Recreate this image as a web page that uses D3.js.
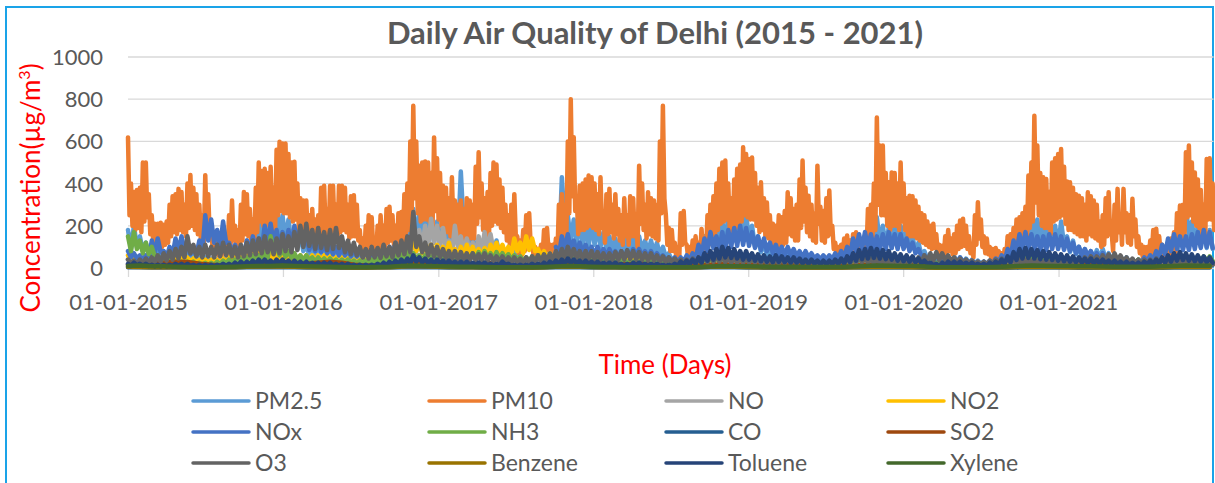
<!DOCTYPE html>
<html><head><meta charset="utf-8">
<script src="https://cdn.jsdelivr.net/npm/d3@7"></script>
<style>
html,body{margin:0;padding:0;background:#fff;}
svg{display:block;font-family:Lato,"Open Sans",sans-serif;}
</style>
</head><body>
<svg id="chart" width="1215" height="483"></svg>
<script>
// ---------- DATA ----------
const titleText = "Daily Air Quality of Delhi (2015 - 2021)";
const yTicks = [0, 200, 400, 600, 800, 1000];
const xTickYears = [2015, 2016, 2017, 2018, 2019, 2020, 2021];
const seriesNames = ["PM2.5","PM10","NO","NO2","NOx","NH3","CO","SO2","O3","Benzene","Toluene","Xylene"];
const seriesColors = ["#5B9BD5","#ED7D31","#A5A5A5","#FFC000","#4472C4","#70AD47","#255E91","#9E480E","#636363","#997300","#264478","#43682B"];
// sampling interval (days) of each series, starting 01-01-2015
const seriesStepDays = [14, 7, 14, 14, 14, 14, 28, 28, 14, 28, 14, 28];

// PM10, weekly highs
const pm10 = [
619,400,360,370,380,500,500,350,250,210,
210,215,205,220,300,340,350,375,360,300,
400,441,380,350,300,250,440,350,200,150,
140,130,190,160,250,320,200,180,300,360,
350,280,230,380,500,460,470,450,480,380,
560,598,590,590,540,500,504,400,330,320,
320,250,280,230,250,380,390,280,390,390,
300,390,390,380,300,340,345,300,180,140,
200,250,240,130,200,250,200,280,290,250,
200,260,265,350,400,600,769,600,485,500,
505,500,450,619,520,450,390,380,330,430,
320,300,320,280,330,320,300,480,548,400,
330,360,450,500,490,420,380,300,250,300,
350,150,130,180,250,260,120,100,90,110,
180,190,110,110,140,300,350,300,600,800,
620,343,390,400,420,438,430,400,350,430,
270,350,375,300,350,280,250,330,250,340,
330,220,485,400,300,359,330,320,300,600,
769,250,190,180,120,100,260,270,110,100,
130,150,120,185,140,250,300,340,400,470,
500,509,400,330,420,470,490,572,540,517,
524,450,380,406,330,310,250,210,200,250,
240,270,359,330,280,300,420,509,380,343,
300,260,485,290,270,330,367,200,120,100,
110,140,154,130,160,170,120,70,150,280,
300,400,713,580,580,450,406,453,450,400,
500,400,330,343,340,320,290,260,250,220,
200,210,160,110,105,150,180,140,160,200,
225,233,200,150,110,250,312,230,150,140,
100,90,95,80,70,90,150,160,190,230,
240,260,290,438,500,721,580,450,430,422,
360,500,520,540,564,480,410,406,380,350,
343,330,300,359,340,320,300,220,250,330,
359,170,300,375,250,375,260,250,328,230,
150,110,100,100,130,180,186,150,110,90,
100,140,170,260,296,300,548,580,500,453,
420,370,300,517,520,400
];
// PM10, weekly lows (mid-week)
const pm10Low = [
250,200,180,190,170,220,240,160,120,100,110,100,110,120,150,170,160,180,170,150,
190,200,180,160,140,120,180,150,90,70,60,60,80,70,100,130,90,80,130,160,
150,130,110,170,220,200,210,200,220,180,250,270,260,
260,240,220,230,180,150,150,140,120,130,110,120,170,180,130,170,180,140,170,180,
170,140,150,150,130,80,60,90,110,100,60,90,110,90,120,130,110,90,120,120,
160,180,270,330,260,220,230,230,220,200,270,230,
200,180,170,150,190,150,140,150,130,150,140,140,210,240,180,150,160,200,220,210,
190,170,130,110,130,150,70,60,80,110,110,55,45,40,50,80,85,50,50,60,
130,160,140,260,340,270,160,180,180,190,200,190,
180,160,190,120,160,170,140,160,130,110,150,110,150,150,100,210,180,140,160,150,
140,130,260,330,110,80,80,55,45,110,120,50,45,60,65,55,80,60,110,130,
150,180,210,220,230,180,150,190,210,220,250,240,
230,230,200,170,180,150,140,110,95,90,110,110,120,160,150,130,130,190,220,170,
150,130,120,210,130,120,150,160,90,55,45,50,60,70,60,70,75,55,35,70,
120,130,180,300,250,250,200,180,200,200,180,220,
180,150,150,150,140,130,120,110,100,90,95,70,50,50,70,80,65,70,90,100,
105,90,70,50,110,140,100,70,65,45,40,45,40,35,40,70,70,85,100,110,
120,130,190,220,310,250,200,190,190,160,220,230,
240,250,210,180,180,170,160,150,150,130,160,150,140,130,100,110,150,160,80,130,
170,110,170,120,110,150,100,70,50,45,45,60,80,85,70,50,40,45,60,75,
120,130,130,240,250,220,200,190,160,130,230,230,180
];

// PM2.5, fortnightly highs / lows
const pm25 = [
180,200,150,120,90,100,80,90,85,95,90,80,70,50,45,40,45,60,70,100,130,150,250,280,300,290,
250,230,180,160,110,100,90,95,100,100,90,80,70,50,45,40,40,55,65,100,150,250,280,260,250,230,
220,200,180,250,457,200,150,120,110,110,130,100,90,80,60,50,45,50,60,80,120,430,250,230,220,200,
220,200,170,150,140,150,140,140,150,130,130,120,100,70,50,45,50,60,100,150,200,230,220,250,250,330,
260,200,150,120,100,90,85,80,80,75,70,60,50,40,35,35,40,55,90,120,150,180,240,200,190,200,
200,180,150,120,80,60,50,45,50,55,50,45,40,35,30,30,35,50,90,150,180,220,290,230,200,220,
200,220,150,130,100,90,80,85,90,70,60,55,50,40,35,30,30,35,45,80,120,230,300,220,200,190,180
];
const pm25Low = [
90,100,80,60,50,55,45,50,45,50,50,45,35,25,25,20,25,30,35,50,70,80,120,140,150,150,
130,120,90,80,60,55,50,50,55,55,50,45,35,25,25,20,20,30,35,50,80,130,140,130,130,120,
110,100,90,120,180,100,80,60,55,55,65,50,45,40,30,25,25,25,30,40,60,200,130,120,110,100,
110,100,90,80,75,80,75,75,80,70,70,60,50,35,25,25,25,30,50,75,100,120,110,130,130,160,
130,100,75,60,50,45,45,40,40,40,35,30,25,20,18,18,20,28,45,60,75,90,120,100,95,100,
100,90,75,60,40,30,25,22,25,28,25,22,20,18,15,15,18,25,45,75,90,110,150,120,100,110,
100,110,75,65,50,45,40,42,45,35,30,28,25,20,18,15,15,18,22,40,60,120,150,110,100,95,90
];

// NO, fortnightly highs / lows
const no = [
40,35,30,25,20,20,20,20,20,20,20,15,15,15,15,15,20,25,30,35,40,50,55,60,60,55,
55,50,40,30,25,20,20,20,20,20,15,15,15,15,15,20,25,30,40,60,90,120,150,180,200,233,
200,190,130,200,150,140,120,150,170,160,100,60,40,30,25,25,30,40,50,60,80,60,50,40,40,40,
40,35,30,25,20,20,15,15,15,15,15,15,15,15,15,20,25,30,40,50,60,60,55,50,50,45,
45,40,30,25,20,20,15,15,15,15,15,15,15,15,15,20,25,30,40,50,60,60,55,50,50,45,
45,40,30,20,10,8,8,8,10,10,10,10,10,10,10,15,20,30,40,50,60,60,55,50,50,45,
45,40,30,25,20,20,15,15,15,15,15,15,15,15,15,20,25,30,40,50,60,60,55,50,50,45,40
];
const noLow = [
20,18,15,12,10,10,10,10,10,10,10,8,8,8,8,8,10,12,15,18,20,25,28,30,30,28,
28,25,20,15,12,10,10,10,10,10,8,8,8,8,8,10,12,15,20,30,45,60,75,90,100,120,
100,95,65,100,75,70,60,75,85,80,50,30,20,15,12,12,15,20,25,30,40,30,25,20,20,20,
20,18,15,12,10,10,8,8,8,8,8,8,8,8,8,10,12,15,20,25,30,30,28,25,25,22,
22,20,15,12,10,10,8,8,8,8,8,8,8,8,8,10,12,15,20,25,30,30,28,25,25,22,
22,20,15,10,5,4,4,4,5,5,5,5,5,5,5,8,10,15,20,25,30,30,28,25,25,22,
22,20,15,12,10,10,8,8,8,8,8,8,8,8,8,10,12,15,20,25,30,30,28,25,25,22,20
];

// NO2, fortnightly highs / lows
const no2 = [
60,55,50,50,50,50,55,55,55,50,50,45,40,40,40,40,45,50,55,60,65,70,75,75,70,70,
70,65,60,60,60,60,60,60,55,50,50,45,40,40,40,40,45,50,55,70,100,130,140,120,110,110,
110,100,120,90,100,110,100,90,95,110,120,110,100,140,120,150,140,90,80,70,60,60,60,55,50,50,
50,50,45,45,45,45,45,40,40,40,40,35,35,35,35,35,40,45,50,55,60,60,55,55,50,50,
50,45,45,40,40,40,40,40,35,35,35,30,30,30,30,30,35,40,45,50,55,55,50,50,45,45,
45,40,40,35,20,15,15,20,25,25,25,20,20,20,20,25,30,35,45,55,60,60,55,50,50,45,
45,40,40,35,35,30,30,30,30,25,25,25,25,25,25,30,35,40,45,50,55,55,50,50,50,45,45
];
const no2Low = [
35,32,30,30,30,30,32,32,32,30,30,27,24,24,24,24,27,30,32,35,38,40,44,44,40,40,
40,38,35,35,35,35,35,35,32,30,30,27,24,24,24,24,27,30,32,40,60,75,80,70,65,65,
65,60,70,55,60,65,60,55,57,65,70,65,60,80,70,85,80,55,48,42,36,36,36,33,30,30,
30,30,27,27,27,27,27,24,24,24,24,21,21,21,21,21,24,27,30,33,36,36,33,33,30,30,
30,27,27,24,24,24,24,24,21,21,21,18,18,18,18,18,21,24,27,30,33,33,30,30,27,27,
27,24,24,21,12,9,9,12,15,15,15,12,12,12,12,15,18,21,27,33,36,36,33,30,30,27,
27,24,24,21,21,18,18,18,18,15,15,15,15,15,15,18,21,24,27,30,33,33,30,30,30,27,27
];

// NOx, fortnightly highs / lows (null = missing)
const nox = [
80,70,60,60,130,140,80,100,140,150,110,100,130,250,230,180,220,120,110,100,130,150,140,200,210,180,
170,180,200,190,150,140,130,120,110,100,100,90,90,80,80,70,80,90,100,120,null,null,null,null,null,null,
null,null,null,null,null,null,null,null,null,null,null,null,null,null,null,null,null,null,null,null,100,150,160,130,120,110,
100,100,90,90,80,80,80,90,90,80,80,70,60,50,50,50,60,70,110,140,170,150,170,180,190,200,
190,170,150,140,120,110,100,100,90,80,80,70,60,60,60,70,80,100,140,160,170,160,150,160,170,160,
160,140,120,90,60,40,30,35,40,45,50,40,35,30,30,35,45,60,90,130,160,170,160,150,150,160,
160,150,140,120,100,90,80,70,70,60,50,50,40,40,40,50,60,80,110,140,160,150,150,160,170,180,170
];
const noxLow = [
50,45,40,40,70,75,50,60,80,85,65,60,75,130,120,100,120,70,65,60,75,85,80,110,115,100,
95,100,110,105,85,80,75,70,65,60,60,55,55,50,50,45,50,55,60,70,null,null,null,null,null,null,
null,null,null,null,null,null,null,null,null,null,null,null,null,null,null,null,null,null,null,null,60,85,90,75,70,65,
60,60,55,55,50,50,50,55,55,50,50,45,40,30,30,30,35,40,60,80,95,85,95,100,105,110,
105,95,85,80,70,65,60,60,55,50,50,45,40,40,40,45,50,60,80,90,95,90,85,90,95,90,
90,80,70,55,35,25,20,22,25,28,30,25,22,20,20,22,28,35,55,75,90,95,90,85,85,90,
90,85,80,70,60,55,50,45,45,40,32,32,26,26,26,32,38,48,65,80,90,85,85,90,95,100,95
];

// NH3, fortnightly highs / lows
const nh3 = [
150,170,130,120,100,60,40,35,30,30,30,30,25,25,25,30,35,40,40,45,50,60,60,80,150,100,
90,80,70,60,60,50,50,45,45,40,40,40,35,35,35,40,45,50,55,60,70,80,70,60,60,55,
60,70,60,55,60,65,70,75,80,70,75,70,65,60,55,50,55,60,60,55,50,55,60,50,45,40,
40,40,35,35,35,35,30,30,30,30,30,30,25,25,25,25,30,30,35,40,45,50,50,50,45,45,
45,40,40,35,35,35,35,30,30,30,30,30,30,25,25,25,30,35,40,45,50,50,50,45,45,40,
40,40,35,35,30,30,25,25,25,25,25,25,25,25,25,25,30,35,40,45,50,50,45,45,40,40,
40,40,35,35,35,30,30,30,30,30,30,35,35,40,40,35,35,40,45,45,45,50,50,55,55,55,55
];
const nh3Low = [
80,90,70,65,55,35,25,20,18,18,18,18,15,15,15,18,20,24,24,27,30,36,36,48,80,60,
54,48,42,36,36,30,30,27,27,24,24,24,21,21,21,24,27,30,33,36,42,48,42,36,36,33,
36,42,36,33,36,39,42,45,48,42,45,42,39,36,33,30,33,36,36,33,30,33,36,30,27,24,
24,24,21,21,21,21,18,18,18,18,18,18,15,15,15,15,18,18,21,24,27,30,30,30,27,27,
27,24,24,21,21,21,21,18,18,18,18,18,18,15,15,15,18,21,24,27,30,30,30,27,27,24,
24,24,21,21,18,18,15,15,15,15,15,15,15,15,15,15,18,21,24,27,30,30,27,27,24,24,
24,24,21,21,21,18,18,18,18,18,18,21,21,24,24,21,21,24,27,27,27,30,30,33,33,33,33
];

// CO, four-weekly
const co = [
3,3,2,2,2,1,1,1,2,2,3,4,4,
3,3,2,2,2,1,1,1,2,2,3,5,4,
3,2,2,2,1,1,1,1,1,2,3,4,3,
2,2,2,1,1,1,1,1,1,2,3,3,3,
2,2,1,1,1,1,1,1,1,2,2,3,2,
2,2,1,1,1,1,1,1,1,1,2,2,2,
2,2,1,1,1,1,1,1,1,1,2,2,2,2
];

// SO2, four-weekly
const so2 = [
15,18,20,25,30,28,20,15,12,14,18,22,20,
25,22,20,25,30,25,15,12,12,15,20,25,22,
20,18,18,22,25,20,14,10,10,14,20,22,18,
18,16,15,18,20,16,12,10,10,12,16,18,16,
15,14,13,15,18,15,11,9,9,11,15,17,15,
14,13,10,9,12,12,10,8,8,10,13,15,14,
13,12,12,14,16,14,10,8,8,10,13,14,13,12
];

// O3, fortnightly highs / lows
const o3 = [
40,35,40,45,50,60,70,80,90,100,150,110,100,110,100,110,120,110,100,110,120,130,140,150,130,140,
160,150,170,200,210,180,190,170,180,190,150,130,120,100,90,100,95,110,100,120,130,150,265,150,120,110,
100,90,80,80,75,70,70,65,70,60,55,55,50,50,45,50,55,60,65,70,80,90,100,90,80,80,
80,75,70,70,75,80,85,80,75,70,70,60,55,50,45,40,40,45,50,55,60,60,55,50,50,50,
50,50,45,45,40,40,45,45,40,40,35,35,30,30,30,35,40,45,50,55,50,45,45,40,40,40,
40,40,45,50,60,70,75,70,60,50,45,40,35,30,30,35,40,45,45,40,40,40,35,35,30,30,
30,30,35,40,45,50,55,55,60,65,70,60,50,45,40,40,40,45,45,40,40,35,35,35,30,30,30
];
const o3Low = [
20,18,20,22,25,30,35,40,45,50,70,55,50,55,50,55,60,55,50,55,60,65,70,75,65,70,
80,75,85,100,105,90,95,85,90,95,75,65,60,50,45,50,48,55,50,60,65,75,100,75,60,55,
50,45,40,40,38,35,35,33,35,30,28,28,25,25,22,25,28,30,33,35,40,45,50,45,40,40,
40,38,35,35,38,40,43,40,38,35,35,30,28,25,22,20,20,22,25,28,30,30,28,25,25,25,
25,25,22,22,20,20,22,22,20,20,18,18,15,15,15,18,20,22,25,28,25,22,22,20,20,20,
20,20,22,25,30,35,38,35,30,25,22,20,18,15,15,18,20,22,22,20,20,20,18,18,15,15,
15,15,18,20,22,25,28,28,30,33,35,30,25,22,20,20,20,22,22,20,20,18,18,18,15,15,15
];

// Benzene, four-weekly
const benzene = [
6,5,4,4,4,3,2,2,3,4,6,8,7,
7,6,5,4,4,3,2,2,3,4,7,9,8,
6,5,4,4,3,3,2,2,2,4,6,7,6,
5,4,4,3,3,2,2,2,2,4,6,7,6,
5,4,3,3,3,2,2,2,2,3,5,6,5,
5,4,3,1,1,1,1,1,2,3,5,6,5,
5,4,3,3,2,2,2,2,2,3,5,6,5,5
];

// Toluene, fortnightly highs / lows
const toluene = [
20,25,20,20,15,15,15,15,20,20,20,15,15,15,15,15,20,20,25,30,30,35,40,40,35,40,
40,35,35,30,30,25,25,25,25,20,20,20,15,15,15,15,20,25,30,35,40,45,60,50,45,40,
40,35,35,30,30,30,25,25,25,20,20,30,20,15,15,15,20,20,25,30,35,40,45,40,35,35,
30,30,25,25,25,20,20,25,25,20,20,20,15,15,20,30,35,40,50,70,80,90,100,95,90,80,
80,70,65,60,55,60,55,50,50,45,40,40,35,35,35,40,45,55,70,85,90,95,90,85,80,70,
65,60,55,45,35,25,20,25,30,30,30,25,25,20,20,25,30,40,55,75,90,95,90,85,80,75,
70,65,60,55,50,45,45,40,40,35,35,30,30,25,25,30,35,40,50,60,70,75,70,65,60,55,50
];
const tolueneLow = [
10,12,10,10,8,8,8,8,10,10,10,8,8,8,8,8,10,10,12,15,15,18,20,20,18,20,
20,18,18,15,15,12,12,12,12,10,10,10,8,8,8,8,10,12,15,18,20,22,30,25,22,20,
20,18,18,15,15,15,12,12,12,10,10,15,10,8,8,8,10,10,12,15,18,20,22,20,18,18,
15,15,12,12,12,10,10,12,12,10,10,10,8,8,10,15,18,20,25,35,40,45,50,48,45,40,
40,35,32,30,28,30,28,25,25,22,20,20,18,18,18,20,22,28,35,42,45,48,45,42,40,35,
32,30,28,22,18,12,10,12,15,15,15,12,12,10,10,12,15,20,28,38,45,48,45,42,40,38,
35,32,30,28,25,22,22,20,20,18,18,15,15,12,12,15,18,20,25,30,35,38,35,32,30,28,25
];

// Xylene, four-weekly
const xylene = [
10,12,8,8,6,5,4,4,5,6,8,10,10,
12,10,8,7,6,5,4,4,5,6,9,12,10,
8,7,6,6,5,4,3,3,4,5,7,9,8,
6,5,5,4,4,3,3,3,3,5,7,9,8,
8,7,6,6,6,5,5,5,5,7,10,12,11,
10,9,7,4,4,4,4,4,5,7,10,12,11,
10,9,8,8,7,6,6,6,6,8,10,12,11,11
];

const seriesValues = [pm25, pm10, no, no2, nox, nh3, co, so2, o3, benzene, toluene, xylene];
const seriesLows   = [pm25Low, pm10Low, noLow, no2Low, noxLow, nh3Low, null, null, o3Low, null, tolueneLow, null];

// ---------- CHART ----------
const svg = d3.select("#chart");
const W = 1215, H = 483;
const plot = {left: 128, right: 1213.5, top: 57, bottom: 268};
const start = new Date(Date.UTC(2015, 0, 1));
const end = new Date(Date.UTC(2022, 0, 1));
const DAY = 864e5;

const x = d3.scaleUtc().domain([start, end]).range([plot.left, plot.right]);
const y = d3.scaleLinear().domain([0, 1000]).range([plot.bottom, plot.top]);

svg.append("rect").attr("width", W).attr("height", H).attr("fill", "#fff");
svg.append("rect").attr("x", 6).attr("y", 7).attr("width", 1207).attr("height", 520)
  .attr("fill", "none").attr("stroke", "#1AA3E8").attr("stroke-width", 2);

// gridlines
svg.append("g").selectAll("line").data(yTicks.filter(d => d > 0)).join("line")
  .attr("x1", plot.left).attr("x2", plot.right)
  .attr("y1", d => y(d)).attr("y2", d => y(d))
  .attr("stroke", "#D9D9D9").attr("stroke-width", 1.3);

// y tick labels
svg.append("g").selectAll("text").data(yTicks).join("text")
  .attr("x", 103).attr("y", d => y(d)).attr("dy", "0.36em")
  .attr("text-anchor", "end").attr("fill", "#595959")
  .attr("font-size", 22).text(d => d);

// x axis
const xTickDates = xTickYears.map(yr => new Date(Date.UTC(yr, 0, 1)));
const fmt = d3.utcFormat("%d-%m-%Y");
const xAxis = d3.axisBottom(x).tickValues(xTickDates).tickFormat(fmt).tickSize(9).tickSizeOuter(0);
const gx = svg.append("g").attr("transform", `translate(0,${plot.bottom})`).call(xAxis);
gx.select(".domain").attr("stroke", "#D9D9D9").attr("stroke-width", 1.3);
gx.selectAll(".tick line").attr("stroke", "#D9D9D9").attr("stroke-width", 1.3);
gx.selectAll(".tick text").attr("fill", "#595959").attr("font-size", 22)
  .attr("font-family", "Lato, 'Open Sans', sans-serif").attr("y", 34).attr("dy", "0.36em");

// series lines: each sample gives a high point and a mid-step low point
const linesG = svg.append("g");
seriesNames.forEach((name, k) => {
  const step = seriesStepDays[k];
  const hi = seriesValues[k], lo = seriesLows[k];
  const pts = [];
  hi.forEach((v, i) => {
    pts.push({date: new Date(start.getTime() + i * step * DAY), v});
    if (lo) pts.push({date: new Date(start.getTime() + (i * step + step / 2) * DAY), v: lo[i]});
  });
  const line = d3.line().defined(d => d.v !== null && d.v !== undefined)
    .x(d => x(d.date)).y(d => y(d.v));
  linesG.append("path").datum(pts)
    .attr("d", line).attr("fill", "none")
    .attr("stroke", seriesColors[k]).attr("stroke-width", 4.5)
    .attr("stroke-linejoin", "round").attr("stroke-linecap", "round");
});

// title
svg.append("text").attr("x", 655).attr("y", 44).attr("text-anchor", "middle")
  .attr("fill", "#595959").attr("font-size", 31).attr("font-weight", "bold").text(titleText);

// axis titles
const yl = svg.append("text").attr("transform", "translate(40,188) rotate(-90)")
  .attr("text-anchor", "middle").attr("fill", "#FF0000").attr("font-size", 26);
yl.append("tspan").text("Concentration(µg/m");
yl.append("tspan").attr("font-size", 16).attr("dy", -10).text("3");
yl.append("tspan").attr("dy", 10).text(")");

svg.append("text").attr("x", 665).attr("y", 374).attr("text-anchor", "middle")
  .attr("fill", "#FF0000").attr("font-size", 26).text("Time (Days)");

// legend
const colX = [193, 429, 666, 888];
const rowY = [401, 432, 463];
const lg = svg.append("g");
seriesNames.forEach((name, k) => {
  const c = k % 4, r = Math.floor(k / 4);
  lg.append("line").attr("x1", colX[c]).attr("x2", colX[c] + 56)
    .attr("y1", rowY[r]).attr("y2", rowY[r])
    .attr("stroke", seriesColors[k]).attr("stroke-width", 3.5).attr("stroke-linecap", "round");
  lg.append("text").attr("x", colX[c] + 62).attr("y", rowY[r]).attr("dy", "0.36em")
    .attr("fill", "#595959").attr("font-size", 23).text(name);
});
</script>
</body></html>
